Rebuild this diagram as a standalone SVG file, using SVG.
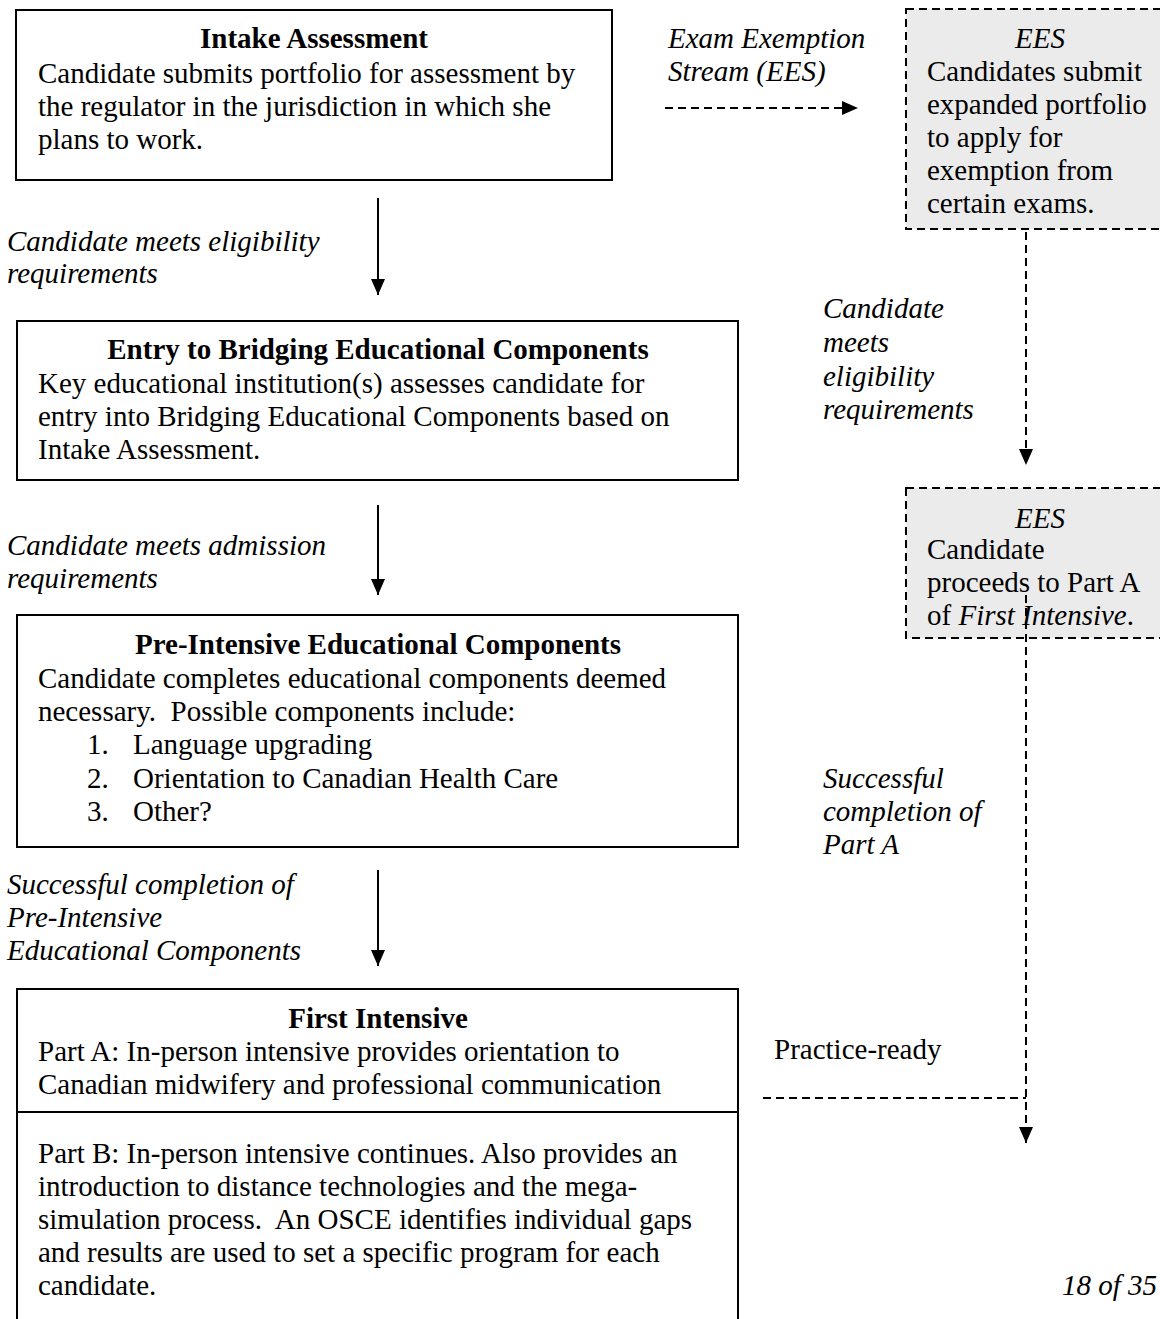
<svg xmlns="http://www.w3.org/2000/svg" width="1160" height="1319" viewBox="0 0 1160 1319">
<style>
text{font-family:"Liberation Serif","Times New Roman",serif;font-size:29px;fill:#000;white-space:pre}
.b{font-weight:bold}
.i{font-style:italic}
.c{text-anchor:middle}
.box{fill:#fff;stroke:#000;stroke-width:2}
.ees{fill:#ebebeb;stroke:#000;stroke-width:2;stroke-dasharray:8 5}
.solid{stroke:#000;stroke-width:2;fill:none}
.dash{stroke:#000;stroke-width:2;fill:none;stroke-dasharray:8 5}
</style>
<defs>
<marker id="ah" markerUnits="userSpaceOnUse" markerWidth="16" markerHeight="14" refX="16" refY="7" orient="auto" viewBox="0 0 16 14">
<path d="M0,0 L16,7 L0,14 z" fill="#000"/>
</marker>
</defs>
<rect width="1160" height="1319" fill="#fff"/>

<g id="intake">
<rect class="box" x="16" y="10" width="596" height="170"/>
<text class="b c" x="314" y="48">Intake Assessment</text>
<text x="38" y="83">Candidate submits portfolio for assessment by</text>
<text x="38" y="116">the regulator in the jurisdiction in which she</text>
<text x="38" y="149">plans to work.</text>
</g>

<g id="entry">
<rect class="box" x="17" y="321" width="721" height="159"/>
<text class="b c" x="378" y="359">Entry to Bridging Educational Components</text>
<text x="38" y="393">Key educational institution(s) assesses candidate for</text>
<text x="38" y="426">entry into Bridging Educational Components based on</text>
<text x="38" y="459">Intake Assessment.</text>
</g>

<g id="preintensive">
<rect class="box" x="17" y="615" width="721" height="232"/>
<text class="b c" x="378" y="654">Pre-Intensive Educational Components</text>
<text x="38" y="688">Candidate completes educational components deemed</text>
<text x="38" y="721">necessary.&#160; Possible components include:</text>
<text x="87" y="754">1.</text><text x="133" y="754">Language upgrading</text>
<text x="87" y="788">2.</text><text x="133" y="788">Orientation to Canadian Health Care</text>
<text x="87" y="821">3.</text><text x="133" y="821">Other?</text>
</g>

<g id="firstintensive">
<rect class="box" x="17" y="989" width="721" height="345"/>
<line class="solid" x1="17" y1="1112" x2="738" y2="1112"/>
<text class="b c" x="378" y="1028">First Intensive</text>
<text x="38" y="1061">Part A: In-person intensive provides orientation to</text>
<text x="38" y="1094">Canadian midwifery and professional communication</text>
<text x="38" y="1163">Part B: In-person intensive continues. Also provides an</text>
<text x="38" y="1196">introduction to distance technologies and the mega-</text>
<text x="38" y="1229">simulation process.&#160; An OSCE identifies individual gaps</text>
<text x="38" y="1262">and results are used to set a specific program for each</text>
<text x="38" y="1295">candidate.</text>
</g>

<g id="ees1">
<rect class="ees" x="906" y="9" width="270" height="220"/>
<text class="i c" x="1040" y="48">EES</text>
<text x="927" y="81">Candidates submit</text>
<text x="927" y="114">expanded portfolio</text>
<text x="927" y="147">to apply for</text>
<text x="927" y="180">exemption from</text>
<text x="927" y="213">certain exams.</text>
</g>

<g id="ees2">
<rect class="ees" x="906" y="488" width="270" height="150"/>
<text class="i c" x="1040" y="528">EES</text>
<text x="927" y="559">Candidate</text>
<text x="927" y="592">proceeds to Part A</text>
<text x="927" y="625">of <tspan class="i">First Intensive</tspan>.</text>
</g>

<g id="connectors">
<line class="solid" x1="378" y1="198" x2="378" y2="295" marker-end="url(#ah)"/>
<line class="solid" x1="378" y1="505" x2="378" y2="595" marker-end="url(#ah)"/>
<line class="solid" x1="378" y1="870" x2="378" y2="966" marker-end="url(#ah)"/>
<line class="dash" x1="665" y1="108" x2="858" y2="108" marker-end="url(#ah)"/>
<line class="dash" x1="1026" y1="232" x2="1026" y2="465" marker-end="url(#ah)"/>
<line class="dash" x1="1026" y1="595" x2="1026" y2="1143" marker-end="url(#ah)"/>
<line class="dash" x1="763" y1="1098" x2="1026" y2="1098"/>
</g>

<g id="labels">
<text class="i" x="668" y="48">Exam Exemption</text>
<text class="i" x="668" y="81">Stream (EES)</text>
<text class="i" x="7" y="251">Candidate meets eligibility</text>
<text class="i" x="7" y="283">requirements</text>
<text class="i" x="7" y="555">Candidate meets admission</text>
<text class="i" x="7" y="588">requirements</text>
<text class="i" x="7" y="894">Successful completion of</text>
<text class="i" x="7" y="927">Pre-Intensive</text>
<text class="i" x="7" y="960">Educational Components</text>
<text class="i" x="823" y="318">Candidate</text>
<text class="i" x="823" y="352">meets</text>
<text class="i" x="823" y="386">eligibility</text>
<text class="i" x="823" y="419">requirements</text>
<text class="i" x="823" y="788">Successful</text>
<text class="i" x="823" y="821">completion of</text>
<text class="i" x="823" y="854">Part A</text>
<text x="774" y="1059">Practice-ready</text>
<text class="i" x="1157" y="1295" text-anchor="end">18 of 35</text>
</g>
</svg>
